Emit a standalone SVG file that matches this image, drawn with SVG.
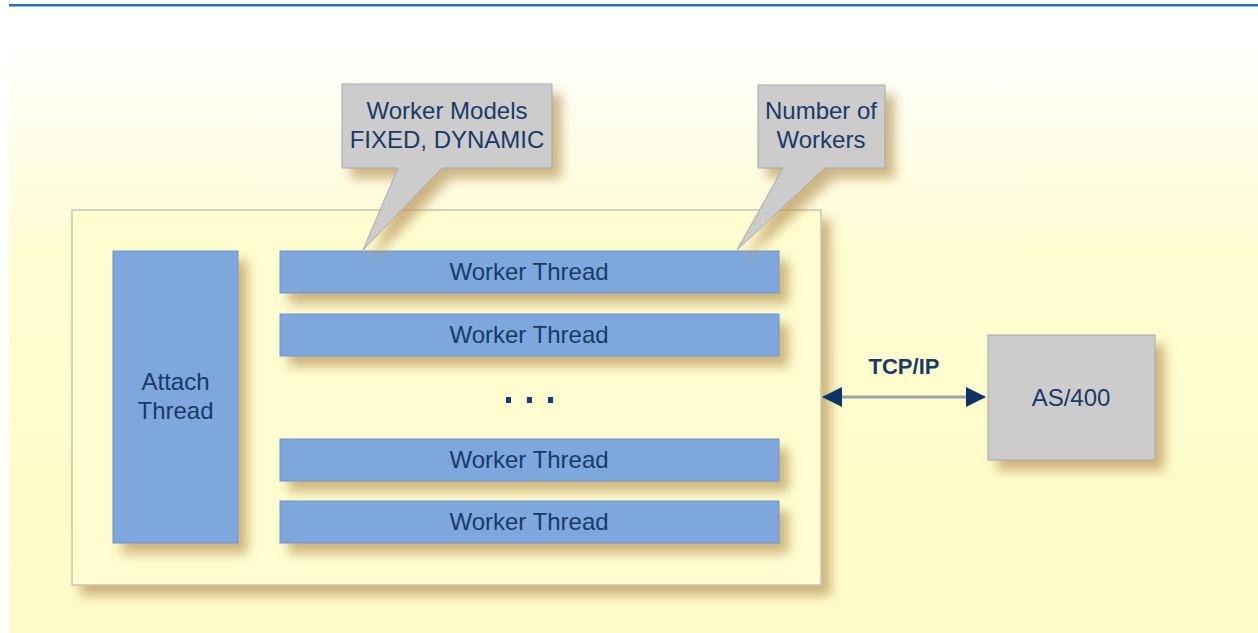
<svg xmlns="http://www.w3.org/2000/svg" width="1258" height="633" viewBox="0 0 1258 633">
<style>
.t{font-family:"Liberation Sans",Arial,sans-serif;font-size:24px;fill:#1a3a68;text-anchor:middle}
.b{font-family:"Liberation Sans",Arial,sans-serif;font-size:22px;font-weight:bold;fill:#1a3a68;text-anchor:middle}
.blue{fill:#7ea7de;stroke:#6f95c8;stroke-width:1}
.grey{fill:#cccccc;stroke:#a8a8a8;stroke-width:1}
</style>
<defs>
<linearGradient id="bg" x1="0" y1="0" x2="0" y2="1">
<stop offset="0.06" stop-color="#ffffff"/>
<stop offset="0.42" stop-color="#fffcd0"/>
<stop offset="1" stop-color="#fffbc8"/>
</linearGradient>
<filter id="sh" x="-20%" y="-20%" width="150%" height="170%">
<feDropShadow dx="9" dy="10" stdDeviation="6" flood-color="#b8955a" flood-opacity="0.7"/>
</filter>
<marker id="ah" viewBox="0 0 20 20" refX="19" refY="10" markerWidth="20" markerHeight="20" markerUnits="userSpaceOnUse" orient="auto-start-reverse">
<path d="M0,0 L20,10 L0,20 z" fill="#0d3466"/>
</marker>
</defs>
<rect x="9" y="0" width="1249" height="633" fill="url(#bg)"/>
<rect x="9" y="4" width="1249" height="2.5" fill="#1a74b8"/>

<g id="container">
<rect x="72" y="210" width="749" height="375" fill="#fffdd0" stroke="#c6c6b6" stroke-width="1.5" filter="url(#sh)"/>
</g>

<g id="attach">
<rect class="blue" x="113" y="251" width="125" height="292" filter="url(#sh)"/>
<text class="t" x="175.5" y="390">Attach</text>
<text class="t" x="175.5" y="419">Thread</text>
</g>

<g id="worker1">
<rect class="blue" x="280" y="251" width="499" height="42" filter="url(#sh)"/>
<text class="t" x="529" y="280">Worker Thread</text>
</g>
<g id="worker2">
<rect class="blue" x="280" y="314" width="499" height="42" filter="url(#sh)"/>
<text class="t" x="529" y="343">Worker Thread</text>
</g>
<g id="dots" fill="#0d3a78">
<rect x="506" y="397" width="5" height="6"/>
<rect x="527" y="397" width="5" height="6"/>
<rect x="548" y="397" width="5" height="6"/>
</g>
<g id="worker3">
<rect class="blue" x="280" y="439" width="499" height="42" filter="url(#sh)"/>
<text class="t" x="529" y="468">Worker Thread</text>
</g>
<g id="worker4">
<rect class="blue" x="280" y="501" width="499" height="42" filter="url(#sh)"/>
<text class="t" x="529" y="530">Worker Thread</text>
</g>

<g id="callout-models">
<path class="grey" d="M342,84 H552 V168 H442 L363,250 L398,168 H342 Z" filter="url(#sh)"/>
<text class="t" x="447" y="119">Worker Models</text>
<text class="t" x="447" y="148">FIXED, DYNAMIC</text>
</g>

<g id="callout-workers">
<path class="grey" d="M758,85 H885 V168 H825 L737,250 L783,168 H758 Z" filter="url(#sh)"/>
<text class="t" x="821" y="119">Number of</text>
<text class="t" x="821" y="148">Workers</text>
</g>

<g id="as400">
<rect class="grey" x="988" y="335" width="167" height="125" filter="url(#sh)"/>
<text class="t" x="1071" y="406">AS/400</text>
</g>

<g id="connectors">
<line x1="823" y1="397" x2="985" y2="397" stroke="#98a4a4" stroke-width="3" marker-start="url(#ah)" marker-end="url(#ah)"/>
<text class="b" x="904" y="374">TCP/IP</text>
</g>
</svg>
